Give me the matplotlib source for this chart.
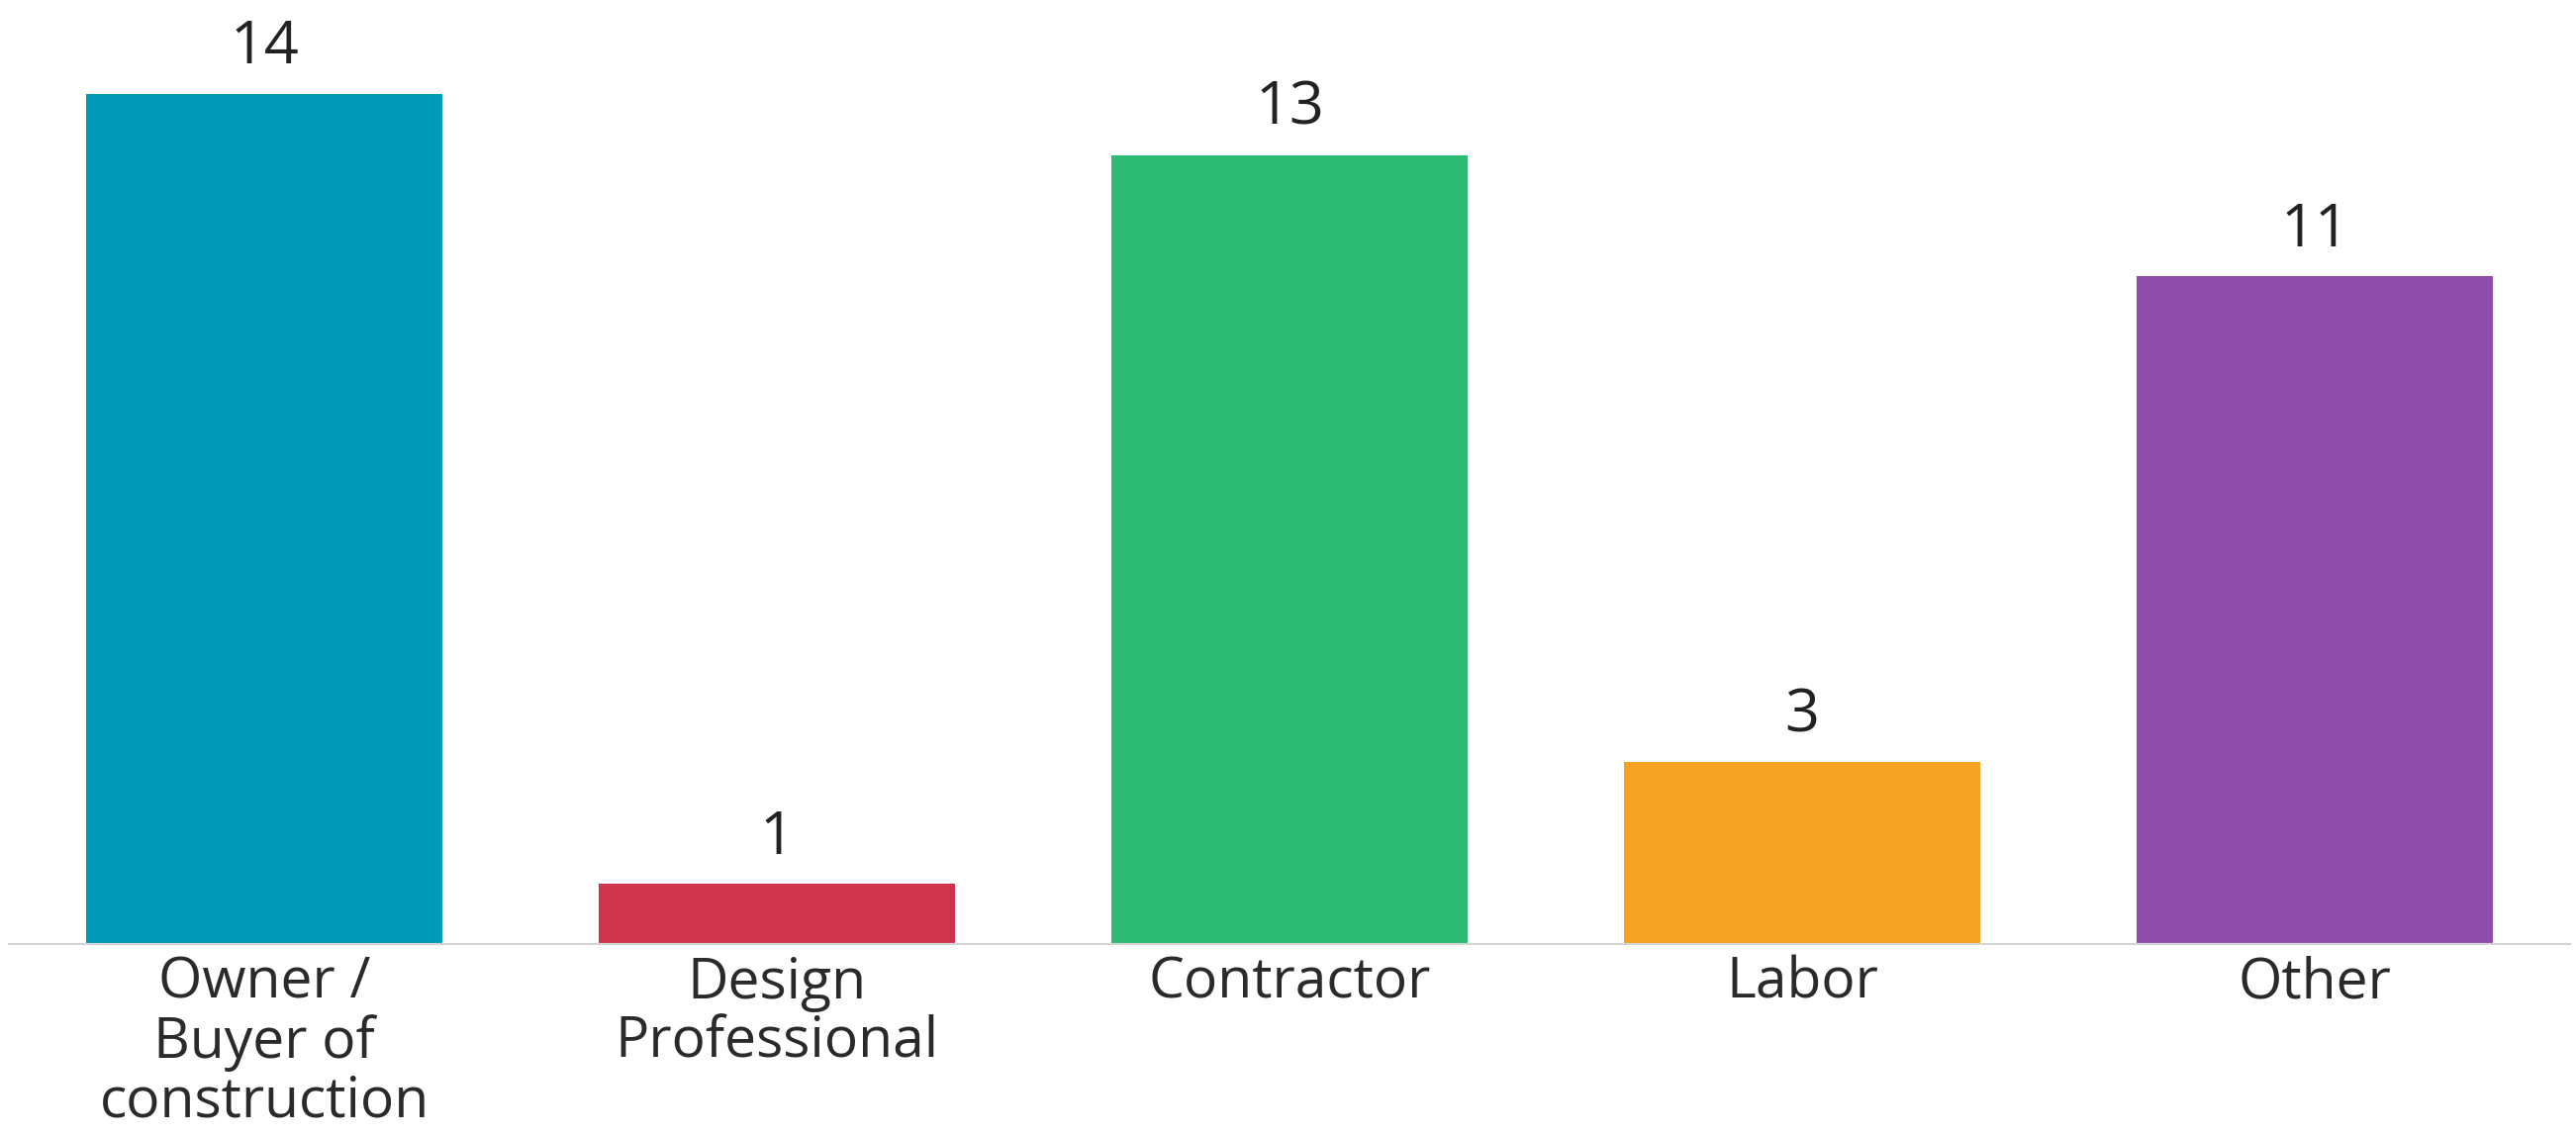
import matplotlib
matplotlib.use("Agg")
import matplotlib.pyplot as plt

categories = ["Owner /\nBuyer of\nconstruction", "Design\nProfessional", "Contractor", "Labor", "Other"]
values = [14, 1, 13, 3, 11]
colors = ["#009bb8", "#d0334e", "#2dba74", "#f4a322", "#8e4cab"]

plt.rcParams['font.family'] = ['Open Sans', 'DejaVu Sans']

W, H, DPI = 2603, 1148, 100
fig = plt.figure(figsize=(W / DPI, H / DPI), dpi=DPI)
base_px = 954.6
ax = fig.add_axes([8 / W, (H - base_px) / H, (2598 - 8) / W, base_px / H])

x = list(range(len(categories)))
bars = ax.bar(x, values, width=0.695, color=colors, zorder=2)
ax.set_xlim(-0.5, 4.5)
ax.set_ylim(0, 15.55)

ax.axhline(0, color="#d4d4d4", lw=3, zorder=3)

for rect, v in zip(bars, values):
    ax.annotate(str(v), (rect.get_x() + rect.get_width() / 2, rect.get_height()),
                xytext=(0, 12), textcoords="offset points", ha="center", va="bottom",
                fontsize=44, color="#222222")

ax.set_xticks(x)
ax.set_xticklabels(categories, fontsize=41, color="#2a2a2a", linespacing=1.06)
ax.tick_params(axis="x", length=0, pad=8)
ax.set_yticks([])
for s in ax.spines.values():
    s.set_visible(False)

fig.savefig("out.png", dpi=DPI, facecolor="white")
